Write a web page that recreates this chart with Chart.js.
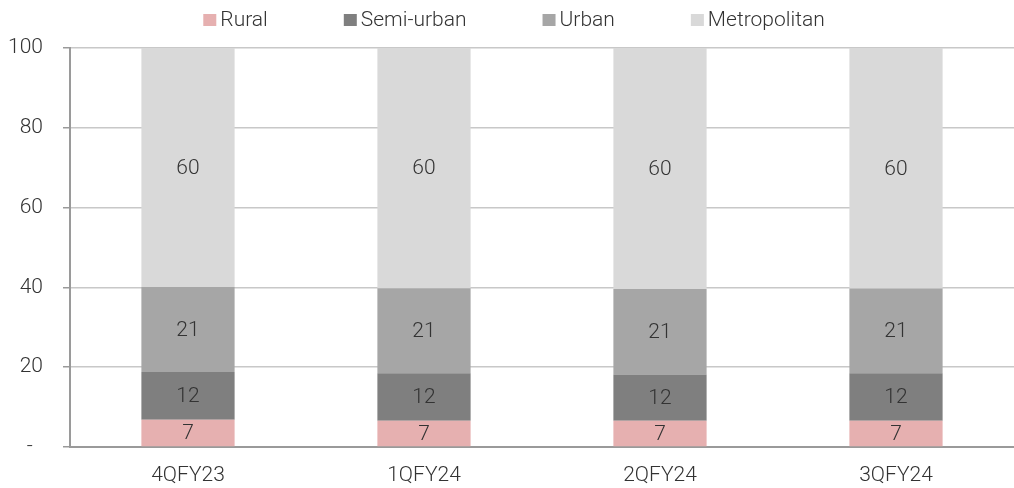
<!DOCTYPE html>
<html>
<head>
<meta charset="utf-8">
<script src="https://cdn.jsdelivr.net/npm/chart.js@4.4.1/dist/chart.umd.min.js"></script>
<style>
  html, body { margin: 0; padding: 0; background: #ffffff; }
  #wrap { width: 1014px; height: 488px; position: relative; }
</style>
</head>
<body>
<div id="wrap"><canvas id="chart"></canvas></div>
<script>
// Share of deposits by population group, per quarter (%)
const categories = ['4QFY23', '1QFY24', '2QFY24', '3QFY24'];
const seriesNames = ['Rural', 'Semi-urban', 'Urban', 'Metropolitan'];
const rural        = [6.8, 6.6, 6.6, 6.6];
const semiUrban    = [12.0, 11.9, 11.6, 11.9];
const urban        = [21.3, 21.3, 21.4, 21.2];
const metropolitan = [59.9, 60.2, 60.4, 60.3];
const yTicks = [0, 20, 40, 60, 80, 100];

const colors = ['#E6B0B0', '#7F7F7F', '#A6A6A6', '#D9D9D9'];
const FONT = 'Roboto, "Liberation Sans", sans-serif';
const FSIZE = 21;
const TEXT = '#333333';

const seriesValues = [rural, semiUrban, urban, metropolitan];
const datasets = seriesNames.map((name, i) => ({
  label: name,
  data: seriesValues[i],
  backgroundColor: colors[i],
  borderWidth: 0,
  barPercentage: 0.395,
  categoryPercentage: 1.0
}));

// Rounded value written in the middle of each segment
const segmentLabels = {
  id: 'segmentLabels',
  afterDatasetsDraw(chart) {
    const ctx = chart.ctx;
    ctx.save();
    ctx.font = '300 ' + FSIZE + 'px ' + FONT;
    ctx.fillStyle = TEXT;
    ctx.textAlign = 'center';
    ctx.textBaseline = 'middle';
    chart.data.datasets.forEach((ds, di) => {
      const meta = chart.getDatasetMeta(di);
      meta.data.forEach((el, j) => {
        const v = ds.data[j];
        ctx.fillText(String(Math.round(v)), el.x, (el.y + el.base) / 2 + 1);
      });
    });
    ctx.restore();
  }
};

// Legend row across the top: square swatch, small gap, name
const topLegend = {
  id: 'topLegend',
  afterDraw(chart) {
    const ctx = chart.ctx;
    ctx.save();
    ctx.font = '300 ' + FSIZE + 'px ' + FONT;
    const box = 13, gap = 4, spacing = 76, cy = 20;
    const items = chart.data.datasets.map(ds => ({
      text: ds.label, color: ds.backgroundColor, w: ctx.measureText(ds.label).width
    }));
    const total = items.reduce((s, it) => s + box + gap + it.w, 0) + spacing * (items.length - 1);
    let x = chart.width / 2 + 7 - total / 2;
    items.forEach(it => {
      ctx.fillStyle = it.color;
      ctx.fillRect(x, cy - 6, box, 12);
      ctx.fillStyle = TEXT;
      ctx.textAlign = 'left';
      ctx.textBaseline = 'middle';
      ctx.fillText(it.text, x + box + gap, cy + 1);
      x += box + gap + it.w + spacing;
    });
    ctx.restore();
  }
};

new Chart(document.getElementById('chart'), {
  type: 'bar',
  data: { labels: categories, datasets },
  plugins: [segmentLabels, topLegend],
  options: {
    responsive: true,
    maintainAspectRatio: false,
    animation: false,
    layout: { padding: { top: 48, right: 0, bottom: 0, left: 0 } },
    plugins: {
      legend: { display: false },
      tooltip: { enabled: false }
    },
    scales: {
      x: {
        stacked: true,
        afterFit(scale) { scale.height = 41; },
        grid: { display: false, drawTicks: false },
        border: { display: true, color: '#9A9A9A', width: 2 },
        ticks: { color: TEXT, font: { family: FONT, size: FSIZE, weight: '300' }, padding: 16 }
      },
      y: {
        stacked: true,
        min: 0,
        max: 100,
        afterBuildTicks(scale) { scale.ticks = yTicks.map(v => ({ value: v })); },
        afterFit(scale) { scale.width = 70; },
        grid: { color: '#C8C8C8', lineWidth: 1.5, tickLength: 7, drawTicks: true, tickColor: '#9A9A9A' },
        border: { display: true, color: '#9A9A9A', width: 2 },
        ticks: {
          color: TEXT,
          font: { family: FONT, size: FSIZE, weight: '300' },
          padding: 20,
          callback: v => (v === 0 ? '-  ' : String(v))
        }
      }
    }
  }
});
</script>
</body>
</html>
